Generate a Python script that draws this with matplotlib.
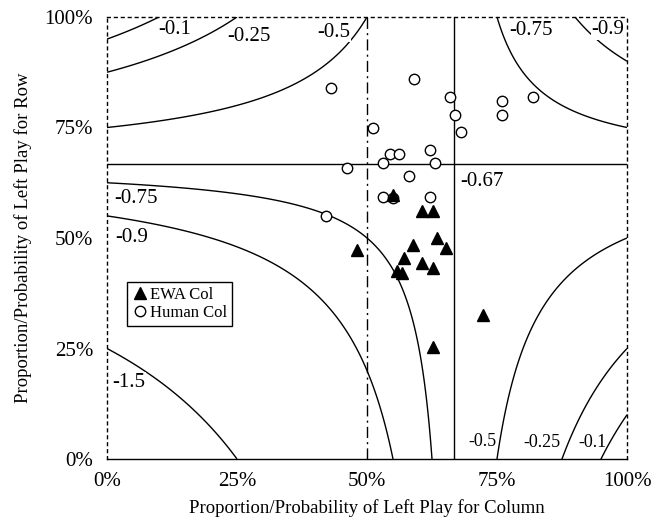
import numpy as np
import matplotlib.pyplot as plt

plt.rcParams['font.family'] = ['Liberation Serif', 'DejaVu Serif']

# Contour levels of the Row payoff field and their label positions
levels = [-1.5, -0.9, -0.75, -0.5, -0.25, -0.1]
eq_point = 2 / 3
labels_big = [("-0.1", 0.130, 0.972), ("-0.25", 0.272, 0.957), ("-0.5", 0.437, 0.966),
              ("-0.75", 0.815, 0.970), ("-0.9", 0.963, 0.972), ("-0.67", 0.721, 0.628),
              ("-0.75", 0.055, 0.590), ("-0.9", 0.048, 0.500), ("-1.5", 0.042, 0.174)]
labels_small = [("-0.5", 0.722, 0.040), ("-0.25", 0.836, 0.038), ("-0.1", 0.934, 0.038)]

# Human Col proportions (x = Column left, y = Row left)
human_x = [0.431, 0.512, 0.462, 0.531, 0.544, 0.562, 0.590, 0.660, 0.669, 0.681,
           0.760, 0.760, 0.819, 0.621, 0.631, 0.581, 0.531, 0.550, 0.621, 0.421]
human_y = [0.839, 0.749, 0.658, 0.670, 0.690, 0.690, 0.860, 0.819, 0.778, 0.740,
           0.810, 0.778, 0.819, 0.699, 0.670, 0.640, 0.593, 0.590, 0.593, 0.550]

# EWA Col probabilities
ewa_x = [0.550, 0.481, 0.557, 0.567, 0.606, 0.627, 0.635, 0.652, 0.588, 0.571,
         0.606, 0.627, 0.723, 0.627]
ewa_y = [0.597, 0.473, 0.426, 0.420, 0.561, 0.561, 0.500, 0.477, 0.484, 0.455,
         0.443, 0.432, 0.326, 0.253]

ticks = [0, 0.25, 0.5, 0.75, 1.0]
tick_labels = ["0%", "25%", "50%", "75%", "100%"]

fig = plt.figure(figsize=(6.51, 5.23), dpi=100)
ax = fig.add_axes([107 / 651, 64 / 523, 520 / 651, 442 / 523])

g = np.linspace(0, 1, 601)
X, Y = np.meshgrid(g, g)
Z = -2 + 2 * X + 2 * Y - 3 * X * Y
ax.contour(X, Y, Z, levels=levels, colors="black", linewidths=1.0, linestyles="solid")

ax.axvline(eq_point, color="black", lw=1.0)
ax.axhline(eq_point, color="black", lw=1.0)
ax.axvline(0.5, color="black", lw=1.0, linestyle=(0, (8, 3, 1.5, 3)))

ax.plot(ewa_x, ewa_y, linestyle="none", marker="^", ms=8, color="black",
        label="EWA Col", zorder=5)
ax.plot(human_x, human_y, linestyle="none", marker="o", ms=7.5, mfc="white",
        mec="black", mew=1.0, label="Human Col", zorder=4)

for txt, x, y in labels_big:
    ax.text(x, y, txt, fontsize=15, ha="center", va="center",
            bbox=dict(facecolor="white", edgecolor="none", pad=0.5))
for txt, x, y in labels_small:
    ax.text(x, y, txt, fontsize=13, ha="center", va="center")

ax.set_xlim(0, 1)
ax.set_ylim(0, 1)
ax.set_xticks(ticks)
ax.set_xticklabels(tick_labels)
ax.set_yticks(ticks)
ax.set_yticklabels(tick_labels)
ax.tick_params(length=0, labelsize=15)
ax.tick_params(axis="x", pad=9)
ax.tick_params(axis="y", pad=10)

for side in ["top", "left", "right"]:
    ax.spines[side].set_linestyle((0, (2, 3)))
    ax.spines[side].set_linewidth(1.0)
ax.spines["bottom"].set_linewidth(1.0)

ax.set_xlabel("Proportion/Probability of Left Play for Column", fontsize=13.5, labelpad=6)
ax.set_ylabel("Proportion/Probability of Left Play for Row", fontsize=13.5, labelpad=9)

leg = ax.legend(loc="lower left", bbox_to_anchor=(0.038, 0.301), fontsize=12,
                frameon=True, fancybox=False, edgecolor="black", framealpha=1,
                handletextpad=0.1, handlelength=1.0, borderpad=0.3,
                labelspacing=0.1, borderaxespad=0)
leg.get_frame().set_linewidth(1.0)

fig.savefig("out.png", dpi=100)
